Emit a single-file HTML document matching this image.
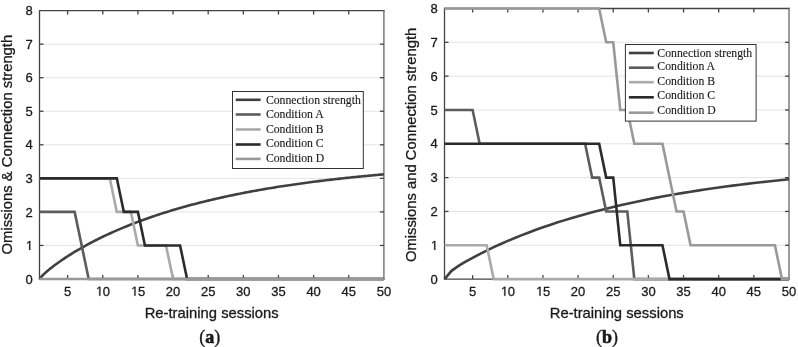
<!DOCTYPE html>
<html><head><meta charset="utf-8"><style>
html,body{margin:0;padding:0;background:#fff;}
body{width:798px;height:347px;overflow:hidden;}
svg{display:block;filter:grayscale(1);}
.tl{font-family:"Liberation Sans",sans-serif;font-size:13px;fill:#1a1a1a;stroke:#1a1a1a;stroke-width:0.3px;}
.ti{font-family:"Liberation Sans",sans-serif;font-size:14.8px;fill:#1a1a1a;stroke:#1a1a1a;stroke-width:0.3px;}
.one{fill:#1a1a1a;stroke:#1a1a1a;stroke-width:40;}
.plb{stroke:#1a1a1a;stroke-width:0.6px;}
.plp{font-weight:normal;stroke:#1a1a1a;stroke-width:0.35px;}
.pl{font-family:"Liberation Serif",serif;font-size:18px;font-weight:bold;fill:#1a1a1a;}
.lg{font-family:"Liberation Serif",serif;font-size:12.5px;fill:#1a1a1a;stroke:#1a1a1a;stroke-width:0.12px;}
</style></head><body>
<svg width="798" height="347" viewBox="0 0 798 347">
<line x1="39.50" y1="245.45" x2="383.90" y2="245.45" stroke="#e4e4e4" stroke-width="1"/>
<line x1="39.50" y1="211.90" x2="383.90" y2="211.90" stroke="#e4e4e4" stroke-width="1"/>
<line x1="39.50" y1="178.35" x2="383.90" y2="178.35" stroke="#e4e4e4" stroke-width="1"/>
<line x1="39.50" y1="144.80" x2="383.90" y2="144.80" stroke="#e4e4e4" stroke-width="1"/>
<line x1="39.50" y1="111.25" x2="383.90" y2="111.25" stroke="#e4e4e4" stroke-width="1"/>
<line x1="39.50" y1="77.70" x2="383.90" y2="77.70" stroke="#e4e4e4" stroke-width="1"/>
<line x1="39.50" y1="44.15" x2="383.90" y2="44.15" stroke="#e4e4e4" stroke-width="1"/>
<path d="M383.90,10.60H39.50V279.00H383.90" fill="none" stroke="#444" stroke-width="1.3" stroke-linecap="square"/>
<line x1="383.90" y1="10.60" x2="383.90" y2="279.00" stroke="#666" stroke-width="1.3" stroke-linecap="square"/>
<line x1="67.61" y1="279.00" x2="67.61" y2="275.00" stroke="#444" stroke-width="1.3"/>
<line x1="67.61" y1="10.60" x2="67.61" y2="14.60" stroke="#444" stroke-width="1.3"/>
<line x1="102.76" y1="279.00" x2="102.76" y2="275.00" stroke="#444" stroke-width="1.3"/>
<line x1="102.76" y1="10.60" x2="102.76" y2="14.60" stroke="#444" stroke-width="1.3"/>
<line x1="137.90" y1="279.00" x2="137.90" y2="275.00" stroke="#444" stroke-width="1.3"/>
<line x1="137.90" y1="10.60" x2="137.90" y2="14.60" stroke="#444" stroke-width="1.3"/>
<line x1="173.04" y1="279.00" x2="173.04" y2="275.00" stroke="#444" stroke-width="1.3"/>
<line x1="173.04" y1="10.60" x2="173.04" y2="14.60" stroke="#444" stroke-width="1.3"/>
<line x1="208.19" y1="279.00" x2="208.19" y2="275.00" stroke="#444" stroke-width="1.3"/>
<line x1="208.19" y1="10.60" x2="208.19" y2="14.60" stroke="#444" stroke-width="1.3"/>
<line x1="243.33" y1="279.00" x2="243.33" y2="275.00" stroke="#444" stroke-width="1.3"/>
<line x1="243.33" y1="10.60" x2="243.33" y2="14.60" stroke="#444" stroke-width="1.3"/>
<line x1="278.47" y1="279.00" x2="278.47" y2="275.00" stroke="#444" stroke-width="1.3"/>
<line x1="278.47" y1="10.60" x2="278.47" y2="14.60" stroke="#444" stroke-width="1.3"/>
<line x1="313.61" y1="279.00" x2="313.61" y2="275.00" stroke="#444" stroke-width="1.3"/>
<line x1="313.61" y1="10.60" x2="313.61" y2="14.60" stroke="#444" stroke-width="1.3"/>
<line x1="348.76" y1="279.00" x2="348.76" y2="275.00" stroke="#444" stroke-width="1.3"/>
<line x1="348.76" y1="10.60" x2="348.76" y2="14.60" stroke="#444" stroke-width="1.3"/>
<line x1="39.50" y1="245.45" x2="43.50" y2="245.45" stroke="#444" stroke-width="1.3"/>
<line x1="383.90" y1="245.45" x2="379.90" y2="245.45" stroke="#444" stroke-width="1.3"/>
<line x1="39.50" y1="211.90" x2="43.50" y2="211.90" stroke="#444" stroke-width="1.3"/>
<line x1="383.90" y1="211.90" x2="379.90" y2="211.90" stroke="#444" stroke-width="1.3"/>
<line x1="39.50" y1="178.35" x2="43.50" y2="178.35" stroke="#444" stroke-width="1.3"/>
<line x1="383.90" y1="178.35" x2="379.90" y2="178.35" stroke="#444" stroke-width="1.3"/>
<line x1="39.50" y1="144.80" x2="43.50" y2="144.80" stroke="#444" stroke-width="1.3"/>
<line x1="383.90" y1="144.80" x2="379.90" y2="144.80" stroke="#444" stroke-width="1.3"/>
<line x1="39.50" y1="111.25" x2="43.50" y2="111.25" stroke="#444" stroke-width="1.3"/>
<line x1="383.90" y1="111.25" x2="379.90" y2="111.25" stroke="#444" stroke-width="1.3"/>
<line x1="39.50" y1="77.70" x2="43.50" y2="77.70" stroke="#444" stroke-width="1.3"/>
<line x1="383.90" y1="77.70" x2="379.90" y2="77.70" stroke="#444" stroke-width="1.3"/>
<line x1="39.50" y1="44.15" x2="43.50" y2="44.15" stroke="#444" stroke-width="1.3"/>
<line x1="383.90" y1="44.15" x2="379.90" y2="44.15" stroke="#444" stroke-width="1.3"/>
<polyline points="39.50,279.00 41.26,276.79 43.01,275.00 44.77,273.35 46.53,271.78 48.29,270.29 50.04,268.84 51.80,267.44 53.56,266.08 55.31,264.76 57.07,263.47 58.83,262.21 60.59,260.97 62.34,259.76 64.10,258.58 65.86,257.41 67.61,256.27 69.37,255.15 71.13,254.04 72.89,252.96 74.64,251.89 76.40,250.84 78.16,249.80 79.91,248.79 81.67,247.78 83.43,246.79 85.19,245.82 86.94,244.86 88.70,243.91 90.46,242.98 92.21,242.06 93.97,241.15 95.73,240.26 97.49,239.37 99.24,238.50 101.00,237.64 102.76,236.79 104.51,235.95 106.27,235.13 108.03,234.31 109.79,233.50 111.54,232.71 113.30,231.92 115.06,231.14 116.81,230.38 118.57,229.62 120.33,228.87 122.09,228.13 123.84,227.40 125.60,226.68 127.36,225.97 129.11,225.26 130.87,224.57 132.63,223.88 134.39,223.20 136.14,222.53 137.90,221.86 139.66,221.21 141.41,220.56 143.17,219.92 144.93,219.28 146.69,218.66 148.44,218.04 150.20,217.43 151.96,216.82 153.71,216.22 155.47,215.63 157.23,215.04 158.99,214.47 160.74,213.89 162.50,213.33 164.26,212.77 166.01,212.22 167.77,211.67 169.53,211.13 171.29,210.59 173.04,210.06 174.80,209.54 176.56,209.02 178.31,208.51 180.07,208.01 181.83,207.51 183.59,207.01 185.34,206.52 187.10,206.04 188.86,205.56 190.61,205.08 192.37,204.61 194.13,204.15 195.89,203.69 197.64,203.24 199.40,202.79 201.16,202.35 202.91,201.91 204.67,201.47 206.43,201.04 208.19,200.62 209.94,200.19 211.70,199.78 213.46,199.37 215.21,198.96 216.97,198.56 218.73,198.16 220.49,197.76 222.24,197.37 224.00,196.98 225.76,196.60 227.51,196.22 229.27,195.85 231.03,195.48 232.79,195.11 234.54,194.75 236.30,194.39 238.06,194.04 239.81,193.68 241.57,193.34 243.33,192.99 245.09,192.65 246.84,192.32 248.60,191.98 250.36,191.65 252.11,191.33 253.87,191.00 255.63,190.68 257.39,190.37 259.14,190.05 260.90,189.74 262.66,189.44 264.41,189.13 266.17,188.83 267.93,188.54 269.69,188.24 271.44,187.95 273.20,187.66 274.96,187.38 276.71,187.09 278.47,186.81 280.23,186.54 281.99,186.26 283.74,185.99 285.50,185.73 287.26,185.46 289.01,185.20 290.77,184.94 292.53,184.68 294.29,184.43 296.04,184.17 297.80,183.92 299.56,183.68 301.31,183.43 303.07,183.19 304.83,182.95 306.59,182.72 308.34,182.48 310.10,182.25 311.86,182.02 313.61,181.79 315.37,181.57 317.13,181.34 318.89,181.12 320.64,180.91 322.40,180.69 324.16,180.48 325.91,180.26 327.67,180.05 329.43,179.85 331.19,179.64 332.94,179.44 334.70,179.24 336.46,179.04 338.21,178.84 339.97,178.65 341.73,178.45 343.49,178.26 345.24,178.07 347.00,177.88 348.76,177.70 350.51,177.52 352.27,177.33 354.03,177.15 355.79,176.98 357.54,176.80 359.30,176.63 361.06,176.45 362.81,176.28 364.57,176.11 366.33,175.94 368.09,175.78 369.84,175.61 371.60,175.45 373.36,175.29 375.11,175.13 376.87,174.97 378.63,174.82 380.39,174.66 382.14,174.51 383.90,174.36" fill="none" stroke="#404040" stroke-width="2.6" stroke-linejoin="miter"/>
<polyline points="39.50,211.90 74.64,211.90 88.70,279.00 383.90,279.00" fill="none" stroke="#5c5c5c" stroke-width="2.6" stroke-linejoin="miter"/>
<polyline points="39.50,178.35 109.79,178.35 116.81,211.90 130.87,211.90 137.90,245.45 166.01,245.45 173.04,279.00 383.90,279.00" fill="none" stroke="#aaaaaa" stroke-width="2.6" stroke-linejoin="miter"/>
<polyline points="39.50,178.35 116.81,178.35 123.84,211.90 137.90,211.90 144.93,245.45 180.07,245.45 187.10,279.00 383.90,279.00" fill="none" stroke="#2b2b2b" stroke-width="2.6" stroke-linejoin="miter"/>
<polyline points="39.50,279.00 383.90,279.00" fill="none" stroke="#999999" stroke-width="2.6" stroke-linejoin="miter"/>
<text transform="translate(25.47,283.60) scale(1,1.0)" class="tl">0</text>
<path transform="translate(25.47,250.05) scale(0.006348,-0.006348)" d="M583 0V1237L265 1010V1180L598 1409H764V0Z" class="one"/>
<text transform="translate(25.47,216.50) scale(1,1.0)" class="tl">2</text>
<text transform="translate(25.47,182.95) scale(1,1.0)" class="tl">3</text>
<text transform="translate(25.47,149.40) scale(1,1.0)" class="tl">4</text>
<text transform="translate(25.47,115.85) scale(1,1.0)" class="tl">5</text>
<text transform="translate(25.47,82.30) scale(1,1.0)" class="tl">6</text>
<text transform="translate(25.47,48.75) scale(1,1.0)" class="tl">7</text>
<text transform="translate(25.47,15.20) scale(1,1.0)" class="tl">8</text>
<text transform="translate(64.00,295.70) scale(1,1.0)" class="tl">5</text>
<path transform="translate(95.53,295.70) scale(0.006348,-0.006348)" d="M583 0V1237L265 1010V1180L598 1409H764V0Z" class="one"/>
<text transform="translate(102.76,295.70) scale(1,1.0)" class="tl">0</text>
<path transform="translate(130.67,295.70) scale(0.006348,-0.006348)" d="M583 0V1237L265 1010V1180L598 1409H764V0Z" class="one"/>
<text transform="translate(137.90,295.70) scale(1,1.0)" class="tl">5</text>
<text transform="translate(165.81,295.70) scale(1,1.0)" class="tl">20</text>
<text transform="translate(200.96,295.70) scale(1,1.0)" class="tl">25</text>
<text transform="translate(236.10,295.70) scale(1,1.0)" class="tl">30</text>
<text transform="translate(271.24,295.70) scale(1,1.0)" class="tl">35</text>
<text transform="translate(306.38,295.70) scale(1,1.0)" class="tl">40</text>
<text transform="translate(341.53,295.70) scale(1,1.0)" class="tl">45</text>
<text transform="translate(376.67,295.70) scale(1,1.0)" class="tl">50</text>
<text transform="translate(211.70,317.6) scale(1,1.0)" text-anchor="middle" class="ti">Re-training sessions</text>
<line x1="444.50" y1="245.28" x2="789.00" y2="245.28" stroke="#e4e4e4" stroke-width="1"/>
<line x1="444.50" y1="211.45" x2="789.00" y2="211.45" stroke="#e4e4e4" stroke-width="1"/>
<line x1="444.50" y1="177.62" x2="789.00" y2="177.62" stroke="#e4e4e4" stroke-width="1"/>
<line x1="444.50" y1="143.80" x2="789.00" y2="143.80" stroke="#e4e4e4" stroke-width="1"/>
<line x1="444.50" y1="109.98" x2="789.00" y2="109.98" stroke="#e4e4e4" stroke-width="1"/>
<line x1="444.50" y1="76.15" x2="789.00" y2="76.15" stroke="#e4e4e4" stroke-width="1"/>
<line x1="444.50" y1="42.32" x2="789.00" y2="42.32" stroke="#e4e4e4" stroke-width="1"/>
<path d="M789.00,8.50H444.50V279.10H789.00" fill="none" stroke="#444" stroke-width="1.3" stroke-linecap="square"/>
<line x1="789.00" y1="8.50" x2="789.00" y2="279.10" stroke="#666" stroke-width="1.3" stroke-linecap="square"/>
<line x1="472.62" y1="279.10" x2="472.62" y2="275.10" stroke="#444" stroke-width="1.3"/>
<line x1="472.62" y1="8.50" x2="472.62" y2="12.50" stroke="#444" stroke-width="1.3"/>
<line x1="507.78" y1="279.10" x2="507.78" y2="275.10" stroke="#444" stroke-width="1.3"/>
<line x1="507.78" y1="8.50" x2="507.78" y2="12.50" stroke="#444" stroke-width="1.3"/>
<line x1="542.93" y1="279.10" x2="542.93" y2="275.10" stroke="#444" stroke-width="1.3"/>
<line x1="542.93" y1="8.50" x2="542.93" y2="12.50" stroke="#444" stroke-width="1.3"/>
<line x1="578.08" y1="279.10" x2="578.08" y2="275.10" stroke="#444" stroke-width="1.3"/>
<line x1="578.08" y1="8.50" x2="578.08" y2="12.50" stroke="#444" stroke-width="1.3"/>
<line x1="613.23" y1="279.10" x2="613.23" y2="275.10" stroke="#444" stroke-width="1.3"/>
<line x1="613.23" y1="8.50" x2="613.23" y2="12.50" stroke="#444" stroke-width="1.3"/>
<line x1="648.39" y1="279.10" x2="648.39" y2="275.10" stroke="#444" stroke-width="1.3"/>
<line x1="648.39" y1="8.50" x2="648.39" y2="12.50" stroke="#444" stroke-width="1.3"/>
<line x1="683.54" y1="279.10" x2="683.54" y2="275.10" stroke="#444" stroke-width="1.3"/>
<line x1="683.54" y1="8.50" x2="683.54" y2="12.50" stroke="#444" stroke-width="1.3"/>
<line x1="718.69" y1="279.10" x2="718.69" y2="275.10" stroke="#444" stroke-width="1.3"/>
<line x1="718.69" y1="8.50" x2="718.69" y2="12.50" stroke="#444" stroke-width="1.3"/>
<line x1="753.85" y1="279.10" x2="753.85" y2="275.10" stroke="#444" stroke-width="1.3"/>
<line x1="753.85" y1="8.50" x2="753.85" y2="12.50" stroke="#444" stroke-width="1.3"/>
<line x1="444.50" y1="245.28" x2="448.50" y2="245.28" stroke="#444" stroke-width="1.3"/>
<line x1="789.00" y1="245.28" x2="785.00" y2="245.28" stroke="#444" stroke-width="1.3"/>
<line x1="444.50" y1="211.45" x2="448.50" y2="211.45" stroke="#444" stroke-width="1.3"/>
<line x1="789.00" y1="211.45" x2="785.00" y2="211.45" stroke="#444" stroke-width="1.3"/>
<line x1="444.50" y1="177.62" x2="448.50" y2="177.62" stroke="#444" stroke-width="1.3"/>
<line x1="789.00" y1="177.62" x2="785.00" y2="177.62" stroke="#444" stroke-width="1.3"/>
<line x1="444.50" y1="143.80" x2="448.50" y2="143.80" stroke="#444" stroke-width="1.3"/>
<line x1="789.00" y1="143.80" x2="785.00" y2="143.80" stroke="#444" stroke-width="1.3"/>
<line x1="444.50" y1="109.98" x2="448.50" y2="109.98" stroke="#444" stroke-width="1.3"/>
<line x1="789.00" y1="109.98" x2="785.00" y2="109.98" stroke="#444" stroke-width="1.3"/>
<line x1="444.50" y1="76.15" x2="448.50" y2="76.15" stroke="#444" stroke-width="1.3"/>
<line x1="789.00" y1="76.15" x2="785.00" y2="76.15" stroke="#444" stroke-width="1.3"/>
<line x1="444.50" y1="42.32" x2="448.50" y2="42.32" stroke="#444" stroke-width="1.3"/>
<line x1="789.00" y1="42.32" x2="785.00" y2="42.32" stroke="#444" stroke-width="1.3"/>
<polyline points="444.50,279.10 451.53,270.81 458.56,265.96 465.59,261.73 472.62,257.79 479.65,254.08 486.68,250.55 493.71,247.19 500.74,243.98 507.78,240.91 514.81,237.96 521.84,235.14 528.87,232.43 535.90,229.82 542.93,227.32 549.96,224.92 556.99,222.60 564.02,220.38 571.05,218.23 578.08,216.17 585.11,214.18 592.14,212.27 599.17,210.43 606.20,208.65 613.23,206.94 620.27,205.29 627.30,203.70 634.33,202.17 641.36,200.69 648.39,199.27 655.42,197.89 662.45,196.57 669.48,195.29 676.51,194.06 683.54,192.87 690.57,191.73 697.60,190.62 704.63,189.55 711.66,188.52 718.69,187.53 725.72,186.57 732.76,185.65 739.79,184.76 746.82,183.90 753.85,183.06 760.88,182.26 767.91,181.49 774.94,180.74 781.97,180.02 789.00,179.33" fill="none" stroke="#404040" stroke-width="2.6" stroke-linejoin="miter"/>
<polyline points="444.50,109.98 472.62,109.98 479.65,143.80 585.11,143.80 592.14,177.62 599.17,177.62 606.20,211.45 627.30,211.45 634.33,279.10 789.00,279.10" fill="none" stroke="#5c5c5c" stroke-width="2.6" stroke-linejoin="miter"/>
<polyline points="444.50,245.28 486.68,245.28 493.71,279.10 789.00,279.10" fill="none" stroke="#aaaaaa" stroke-width="2.6" stroke-linejoin="miter"/>
<polyline points="444.50,143.80 599.17,143.80 606.20,177.62 613.23,177.62 620.27,245.28 662.45,245.28 669.48,279.10 789.00,279.10" fill="none" stroke="#2b2b2b" stroke-width="2.6" stroke-linejoin="miter"/>
<polyline points="444.50,8.50 599.17,8.50 606.20,42.32 613.23,42.32 620.27,109.98 627.30,109.98 634.33,143.80 662.45,143.80 676.51,211.45 683.54,211.45 690.57,245.28 774.94,245.28 781.97,279.10 789.00,279.10" fill="none" stroke="#999999" stroke-width="2.6" stroke-linejoin="miter"/>
<text transform="translate(430.47,283.70) scale(1,1.0)" class="tl">0</text>
<path transform="translate(430.47,249.88) scale(0.006348,-0.006348)" d="M583 0V1237L265 1010V1180L598 1409H764V0Z" class="one"/>
<text transform="translate(430.47,216.05) scale(1,1.0)" class="tl">2</text>
<text transform="translate(430.47,182.22) scale(1,1.0)" class="tl">3</text>
<text transform="translate(430.47,148.40) scale(1,1.0)" class="tl">4</text>
<text transform="translate(430.47,114.58) scale(1,1.0)" class="tl">5</text>
<text transform="translate(430.47,80.75) scale(1,1.0)" class="tl">6</text>
<text transform="translate(430.47,46.92) scale(1,1.0)" class="tl">7</text>
<text transform="translate(430.47,13.10) scale(1,1.0)" class="tl">8</text>
<text transform="translate(469.01,295.80) scale(1,1.0)" class="tl">5</text>
<path transform="translate(500.55,295.80) scale(0.006348,-0.006348)" d="M583 0V1237L265 1010V1180L598 1409H764V0Z" class="one"/>
<text transform="translate(507.78,295.80) scale(1,1.0)" class="tl">0</text>
<path transform="translate(535.70,295.80) scale(0.006348,-0.006348)" d="M583 0V1237L265 1010V1180L598 1409H764V0Z" class="one"/>
<text transform="translate(542.93,295.80) scale(1,1.0)" class="tl">5</text>
<text transform="translate(570.85,295.80) scale(1,1.0)" class="tl">20</text>
<text transform="translate(606.00,295.80) scale(1,1.0)" class="tl">25</text>
<text transform="translate(641.16,295.80) scale(1,1.0)" class="tl">30</text>
<text transform="translate(676.31,295.80) scale(1,1.0)" class="tl">35</text>
<text transform="translate(711.46,295.80) scale(1,1.0)" class="tl">40</text>
<text transform="translate(746.62,295.80) scale(1,1.0)" class="tl">45</text>
<text transform="translate(781.77,295.80) scale(1,1.0)" class="tl">50</text>
<text transform="translate(616.75,317.6) scale(1,1.0)" text-anchor="middle" class="ti">Re-training sessions</text>
<text transform="translate(12.1,144.6) rotate(-90) scale(1,1.0)" text-anchor="middle" class="ti">Omissions &amp; Connection strength</text>
<text transform="translate(416.0,144.9) rotate(-90) scale(1,1.0)" text-anchor="middle" class="ti">Omissions and Connection strength</text>
<text x="209.8" y="342.7" text-anchor="middle" class="pl"><tspan class="plp">(</tspan><tspan class="plb">a</tspan><tspan class="plp">)</tspan></text>
<text x="607.0" y="342.7" text-anchor="middle" class="pl"><tspan class="plp">(</tspan><tspan class="plb">b</tspan><tspan class="plp">)</tspan></text>
<rect x="232.50" y="91.50" width="130.80" height="77.00" fill="#fff" stroke="#333" stroke-width="1"/>
<line x1="235.7" y1="99.8" x2="260.6" y2="99.8" stroke="#404040" stroke-width="2.6"/>
<text transform="translate(265.9,104.20) scale(0.94,1)" class="lg">Connection strength</text>
<line x1="235.7" y1="114.5" x2="260.6" y2="114.5" stroke="#5c5c5c" stroke-width="2.6"/>
<text transform="translate(265.9,117.90) scale(0.94,1)" class="lg">Condition A</text>
<line x1="235.7" y1="129.5" x2="260.6" y2="129.5" stroke="#aaaaaa" stroke-width="2.6"/>
<text transform="translate(265.9,132.70) scale(0.94,1)" class="lg">Condition B</text>
<line x1="235.7" y1="144.5" x2="260.6" y2="144.5" stroke="#2b2b2b" stroke-width="2.6"/>
<text transform="translate(265.9,147.10) scale(0.94,1)" class="lg">Condition C</text>
<line x1="235.7" y1="158.9" x2="260.6" y2="158.9" stroke="#999999" stroke-width="2.6"/>
<text transform="translate(265.9,162.00) scale(0.94,1)" class="lg">Condition D</text>
<rect x="625.40" y="44.50" width="130.70" height="76.60" fill="#fff" stroke="#333" stroke-width="1"/>
<line x1="628.9" y1="53.0" x2="653.8" y2="53.0" stroke="#404040" stroke-width="2.6"/>
<text transform="translate(657.3,56.80) scale(0.94,1)" class="lg">Connection strength</text>
<line x1="628.9" y1="67.7" x2="653.8" y2="67.7" stroke="#5c5c5c" stroke-width="2.6"/>
<text transform="translate(657.3,69.70) scale(0.94,1)" class="lg">Condition A</text>
<line x1="628.9" y1="82.2" x2="653.8" y2="82.2" stroke="#aaaaaa" stroke-width="2.6"/>
<text transform="translate(657.3,85.00) scale(0.94,1)" class="lg">Condition B</text>
<line x1="628.9" y1="97.3" x2="653.8" y2="97.3" stroke="#2b2b2b" stroke-width="2.6"/>
<text transform="translate(657.3,99.30) scale(0.94,1)" class="lg">Condition C</text>
<line x1="628.9" y1="112.7" x2="653.8" y2="112.7" stroke="#999999" stroke-width="2.6"/>
<text transform="translate(657.3,114.20) scale(0.94,1)" class="lg">Condition D</text>
</svg>
</body></html>
